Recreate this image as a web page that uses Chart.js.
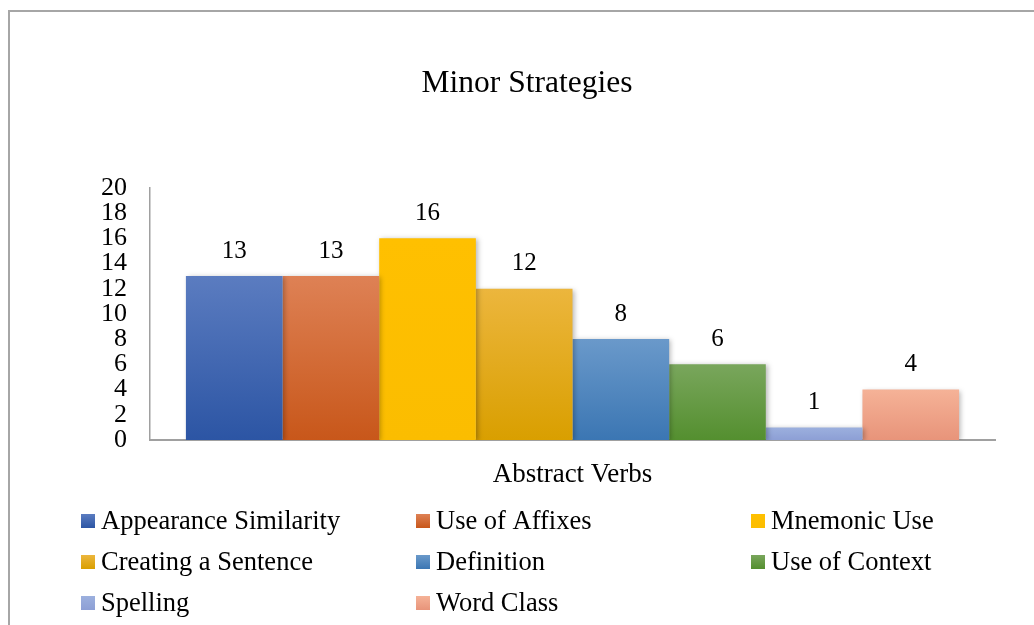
<!DOCTYPE html>
<html>
<head>
<meta charset="utf-8">
<script src="https://cdn.jsdelivr.net/npm/chart.js@4.4.1/dist/chart.umd.min.js"></script>
<style>
    html, body { margin: 0; padding: 0; background: #ffffff; }
    #wrap { width: 1034px; height: 625px; position: relative; }
</style>
</head>
<body>
<div id="wrap"><canvas id="chart" width="1034" height="625"></canvas></div>
<script>
// ─── Data ─────────────────────────────────────────────────────────────────────

const categories = ["Abstract Verbs"];
const seriesNames = [
    "Appearance Similarity", "Use of Affixes", "Mnemonic Use",
    "Creating a Sentence", "Definition", "Use of Context",
    "Spelling", "Word Class",
];
const seriesValues = [13, 13, 16, 12, 8, 6, 1, 4];
const yTickMin = 0;
const yTickMax = 20;
const yTickStep = 2;

// gradient top / bottom per series
const colorsTop    = ["#5b7cc0", "#de8155", "#ffc000", "#ecb63d", "#6a99ca", "#79a65c", "#9cb0de", "#f5b297"];
const colorsBottom = ["#2c55a4", "#c8571a", "#fbbd00", "#d99f00", "#3b76b3", "#548f2f", "#8d9fd5", "#e8947a"];

const FONT = "'Liberation Serif', 'Times New Roman', serif";

// ─── Helpers ──────────────────────────────────────────────────────────────────

function barGradient(ctx, i) {
    const chart = ctx.chart;
    if (!chart.chartArea) return colorsBottom[i];
    const y = chart.scales.y;
    const top = y.getPixelForValue(seriesValues[i]);
    const base = y.getPixelForValue(0);
    const g = chart.ctx.createLinearGradient(0, top, 0, base);
    g.addColorStop(0, colorsTop[i]);
    g.addColorStop(1, colorsBottom[i]);
    return g;
}

// frame line on left/top like the source document
const framePlugin = {
    id: "frame",
    beforeDraw(chart) {
        const c = chart.ctx;
        c.save();
        c.strokeStyle = "#a6a6a6";
        c.lineWidth = 2;
        c.beginPath();
        c.moveTo(9, 625);
        c.lineTo(9, 11);
        c.lineTo(1034, 11);
        c.stroke();
        c.restore();
    },
};

// soft shadow behind bars
const shadowPlugin = {
    id: "barShadow",
    beforeDatasetsDraw(chart) {
        const c = chart.ctx;
        c.save();
        c.shadowColor = "rgba(0,0,0,0.28)";
        c.shadowBlur = 5;
        c.shadowOffsetX = 2;
        c.shadowOffsetY = 1;
    },
    afterDatasetsDraw(chart) {
        chart.ctx.restore();
    },
};

// value labels above bars
const valueLabelPlugin = {
    id: "valueLabels",
    afterDatasetsDraw(chart) {
        const c = chart.ctx;
        c.save();
        c.font = `25px ${FONT}`;
        c.fillStyle = "#000000";
        c.textAlign = "center";
        c.textBaseline = "middle";
        chart.data.datasets.forEach((ds, i) => {
            const meta = chart.getDatasetMeta(i);
            meta.data.forEach((bar, j) => {
                c.fillText(String(ds.data[j]), bar.x, bar.y - 25);
            });
        });
        c.restore();
    },
};

// three-column legend at the bottom
const gridLegendPlugin = {
    id: "gridLegend",
    afterDraw(chart) {
        const c = chart.ctx;
        c.save();
        c.font = `26.5px ${FONT}`;
        c.textBaseline = "middle";
        c.textAlign = "left";
        chart.data.datasets.forEach((ds, i) => {
            const col = i % 3;
            const row = Math.floor(i / 3);
            const x = 81 + col * 335;
            const y = 521 + row * 41;
            const g = c.createLinearGradient(0, y - 7, 0, y + 7);
            g.addColorStop(0, colorsTop[i]);
            g.addColorStop(1, colorsBottom[i]);
            c.fillStyle = g;
            c.fillRect(x, y - 7, 14, 14);
            c.fillStyle = "#000000";
            c.fillText(ds.label, x + 20, y + 1);
        });
        c.restore();
    },
};

// ─── Chart ────────────────────────────────────────────────────────────────────

const datasets = seriesNames.map((name, i) => ({
    label: name,
    data: [seriesValues[i]],
    backgroundColor: (ctx) => barGradient(ctx, i),
    borderWidth: 0,
    categoryPercentage: 0.915,
    barPercentage: 1.0,
}));

new Chart(document.getElementById("chart"), {
    type: "bar",
    data: { labels: categories, datasets },
    plugins: [framePlugin, shadowPlugin, valueLabelPlugin, gridLegendPlugin],
    options: {
        responsive: false,
        animation: false,
        devicePixelRatio: 1,
        layout: { padding: { top: 0, left: 20, right: 0, bottom: 140 } },
        plugins: {
            legend: { display: false },
            tooltip: { enabled: false },
            title: {
                display: true,
                text: "Minor Strategies",
                color: "#000000",
                font: { family: FONT, size: 31.5, weight: "normal" },
                padding: { top: 65, bottom: 85 },
            },
        },
        scales: {
            x: {
                grid: { display: false, drawTicks: false },
                border: { display: true, color: "#a0a0a0", width: 2 },
                ticks: {
                    color: "#000000",
                    padding: 19,
                    font: { family: FONT, size: 27 },
                },
                afterFit: (s) => { s.height = 45; },
            },
            y: {
                min: yTickMin,
                max: yTickMax,
                grid: { display: false, drawTicks: false },
                border: { display: true, color: "#a0a0a0", width: 1.5 },
                ticks: {
                    stepSize: yTickStep,
                    autoSkip: false,
                    color: "#000000",
                    padding: 23,
                    font: { family: FONT, size: 26, lineHeight: 0.9 },
                },
                afterFit: (s) => { s.width = 130; },
            },
            // empty spacer on the right so the title centres like the source
            spacer: {
                type: "linear",
                position: "right",
                display: true,
                grid: { display: false, drawTicks: false },
                border: { display: false },
                ticks: { display: false },
                afterFit: (s) => { s.width = 39; },
            },
        },
    },
});
</script>
</body>
</html>
